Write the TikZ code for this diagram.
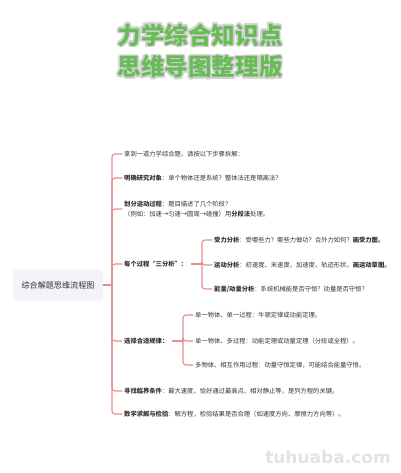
\documentclass[tikz,border=0pt]{standalone}
\usepackage{fontspec}
\usetikzlibrary{calc}
\setmainfont{Noto Sans CJK SC}
\newfontfamily\markfont{DejaVu Sans}
\definecolor{leaf}{RGB}{104,188,88}
\definecolor{link}{RGB}{233,140,140}
\definecolor{ink}{RGB}{51,51,51}
\definecolor{rootfill}{RGB}{243,244,248}
\tikzset{
  topic/.style={anchor=west, inner sep=2pt, text=ink, align=left,
    font=\fontsize{6.3}{10}\selectfont},
  branch/.style={draw=link, line width=1.1pt, rounded corners=3pt},
  headline/.style={font=\fontsize{23.6}{26}\selectfont\bfseries}
}
\begin{document}
\begin{tikzpicture}[x=1pt, y=-1pt, line join=round, line cap=round]
  \useasboundingbox[fill=white] (0,0) rectangle (400,473);
  % title
  \foreach \a in {0,45,...,315}{
    \node[headline, text=gray!35] at ($(200,35)+(\a:1.6)$) {力学综合知识点};
    \node[headline, text=gray!35] at ($(200,67)+(\a:1.6)$) {思维导图整理版};
  }
  \node[headline, text=leaf] (t1) at (200,35) {力学综合知识点};
  \node[headline, text=leaf] (t2) at (200,67) {思维导图整理版};
  % root
  \node[fill=rootfill, rounded corners=3pt, minimum width=90pt, minimum height=31pt,
    text=ink, font=\fontsize{8.1}{10}\selectfont] (root) at (58,285) {综合解题思维流程图};
  \coordinate (hub) at (112,285);
  % first level
  \node[topic] (c1) at (122,154) {拿到一道力学综合题，请按以下步骤拆解：};
  \node[topic] (c2) at (122,178) {\textbf{明确研究对象}：单个物体还是系统？整体法还是隔离法？};
  \node[topic] (c3) at (122,209) {\textbf{划分运动过程}：题目描述了几个阶段？\\（例如：加速→匀速→圆周→碰撞）用\textbf{分段法}处理。};
  \node[topic] (c4) at (122,264) {\textbf{每个过程“三分析”：}};
  \node[topic] (c5) at (122,341) {\textbf{选择合适规律：}};
  \node[topic] (c6) at (122,391) {\textbf{寻找临界条件}：最大速度、恰好通过最高点、相对静止等，是列方程的关键。};
  \node[topic] (c7) at (122,414) {\textbf{数学求解与检验}：解方程，检验结果是否合理（如速度方向、摩擦力方向等）。};
  \draw[branch] (root.east) -- (hub);
  \foreach \n in {c1,c2,c3,c4,c5,c6,c7}
    \draw[branch] (hub) |- (\n.west);
  % three analyses
  \coordinate (h4) at (202,264);
  \node[topic] (d1) at (212,240) {\textbf{受力分析}：受哪些力？哪些力做功？合外力如何？\textbf{画受力图。}};
  \node[topic] (d2) at (212,265) {\textbf{运动分析}：初速度、末速度、加速度、轨迹形状。\textbf{画运动草图。}};
  \node[topic] (d3) at (212,289) {\textbf{能量/动量分析}：系统机械能是否守恒？动量是否守恒？};
  \draw[branch] (c4.east) ++(2,0) -- (h4);
  \foreach \n in {d1,d2,d3}
    \draw[branch] (h4) |- (\n.west);
  % laws
  \coordinate (h5) at (183,341);
  \node[topic] (e1) at (193,315) {单一物体、单一过程：牛顿定律或动能定理。};
  \node[topic] (e2) at (193,341) {单一物体、多过程：动能定理或动量定理（分段或全程）。};
  \node[topic] (e3) at (193,365) {多物体、相互作用过程：动量守恒定律，可能结合能量守恒。};
  \draw[branch] (c5.east) ++(2,0) -- (h5);
  \foreach \n in {e1,e2,e3}
    \draw[branch] (h5) |- (\n.west);
  % watermark
  \node[text=gray!22, font=\markfont\fontsize{17}{20}\selectfont\bfseries] (mark) at (328,457) {tuhuaba.com};
\end{tikzpicture}
\end{document}
